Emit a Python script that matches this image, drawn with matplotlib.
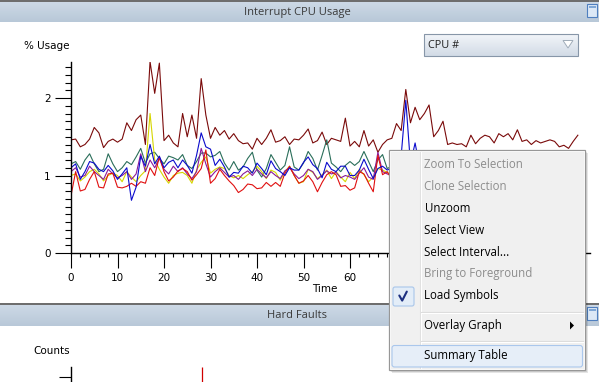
import matplotlib
matplotlib.use('Agg')
import matplotlib.pyplot as plt
import numpy as np
from matplotlib.patches import Rectangle, FancyBboxPatch, Polygon
from matplotlib.ticker import MultipleLocator, NullFormatter, FuncFormatter
import matplotlib.colors as mcolors

# ---------------- data ----------------
time_long = list(range(110))
time_short = list(range(76))

cpu_maroon = [1.46, 1.47, 1.37, 1.40, 1.47, 1.62, 1.55, 1.36, 1.44, 1.47,
              1.43, 1.47, 1.68, 1.58, 1.72, 1.78, 1.40, 2.47, 2.06, 2.45,
              1.45, 1.52, 1.42, 1.37, 1.80, 1.50, 1.78, 1.48, 2.25, 1.78,
              1.48, 1.62, 1.52, 1.58, 1.47, 1.54, 1.45, 1.41, 1.42, 1.34,
              1.48, 1.40, 1.48, 1.59, 1.43, 1.45, 1.50, 1.40, 1.47, 1.46,
              1.52, 1.60, 1.42, 1.45, 1.56, 1.40, 1.48, 1.46, 1.44, 1.74,
              1.38, 1.44, 1.37, 1.58, 1.38, 1.46, 1.30, 1.40, 1.46, 1.48,
              1.67, 1.58, 2.11, 1.68, 1.88, 1.72, 1.80, 1.91, 1.50, 1.58,
              1.70, 1.40, 1.42, 1.40, 1.41, 1.37, 1.52, 1.41, 1.48, 1.52,
              1.50, 1.42, 1.54, 1.50, 1.54, 1.46, 1.59, 1.44, 1.46, 1.40,
              1.45, 1.42, 1.44, 1.46, 1.44, 1.37, 1.39, 1.35, 1.44, 1.52]

cpu_green = [1.15, 1.18, 1.08, 1.20, 1.28, 1.15, 1.05, 1.08, 1.28, 1.15,
             1.05, 1.10, 1.18, 1.14, 1.24, 1.35, 1.16, 1.28, 1.30, 1.22,
             1.15, 1.25, 1.23, 1.20, 1.27, 1.13, 1.09, 1.18, 1.29, 1.29,
             1.24, 1.26, 1.31, 1.16, 1.07, 1.18, 1.07, 1.11, 1.22, 1.30,
             1.07, 0.98, 1.09, 1.27, 1.17, 1.07, 1.13, 1.37, 1.11, 1.07,
             1.16, 1.31, 1.22, 1.07, 1.26, 1.46, 1.16, 1.11, 1.05, 1.13,
             1.18, 1.13, 1.18, 1.31, 1.18, 1.05, 1.20, 1.27, 1.09, 1.12,
             1.20, 1.15, 1.30, 1.18, 1.22, 1.10]

cpu_blue = [1.10, 1.15, 0.95, 1.05, 1.18, 1.16, 1.08, 1.05, 1.13, 1.06,
            0.95, 1.02, 1.10, 0.68, 0.85, 1.25, 1.12, 1.40, 1.15, 1.25,
            1.10, 1.17, 1.20, 1.10, 1.20, 1.13, 1.03, 1.26, 1.55, 1.37,
            1.34, 1.13, 1.21, 1.11, 0.98, 1.04, 1.03, 1.12, 1.10, 1.03,
            1.16, 1.09, 1.01, 1.19, 1.09, 1.05, 1.00, 1.10, 1.07, 1.07,
            1.17, 1.24, 1.14, 1.09, 0.97, 1.17, 1.08, 1.05, 1.12, 1.12,
            1.00, 1.00, 1.07, 1.21, 1.08, 0.96, 1.09, 1.12, 1.07, 1.10,
            1.15, 1.25, 1.97, 1.15, 1.42, 1.10]

cpu_yellow = [1.00, 1.02, 0.93, 0.98, 1.05, 1.08, 1.02, 0.93, 1.00, 1.03,
              1.00, 0.92, 1.05, 0.98, 0.92, 1.00, 1.06, 1.80, 1.20, 1.08,
              0.98, 0.90, 1.00, 1.03, 1.04, 1.00, 0.90, 1.07, 1.17, 1.24,
              1.03, 1.08, 1.11, 1.09, 1.00, 0.97, 1.00, 0.96, 1.01, 1.05,
              1.12, 1.05, 0.96, 1.07, 1.04, 0.94, 1.05, 1.12, 1.00, 0.90,
              0.92, 1.08, 1.04, 0.96, 1.01, 1.07, 0.96, 1.05, 0.98, 0.92,
              1.04, 0.96, 1.08, 1.01, 0.92, 0.98, 1.09, 1.07, 1.04, 1.00,
              1.05, 0.98, 1.10, 1.02, 0.95, 1.00]

cpu_red = [0.74, 1.05, 0.80, 0.82, 0.95, 1.05, 0.85, 0.84, 1.02, 1.03,
           0.85, 0.84, 0.86, 0.90, 0.86, 0.92, 0.90, 1.10, 1.00, 1.24,
           1.05, 0.93, 0.98, 1.06, 1.09, 1.05, 0.94, 1.01, 1.09, 1.33,
           0.90, 0.96, 1.08, 1.00, 0.93, 0.87, 0.78, 0.82, 0.89, 0.88,
           0.83, 0.84, 0.91, 0.86, 0.91, 0.86, 1.03, 1.12, 1.00, 0.90,
           0.93, 1.00, 0.92, 0.79, 0.91, 1.01, 1.05, 1.01, 0.86, 0.87,
           0.81, 0.84, 1.05, 1.02, 0.90, 0.79, 1.26, 1.01, 1.05, 0.95,
           0.90, 1.00, 0.92, 0.88, 1.00, 0.95]

cpu_purple = [1.05, 1.10, 0.98, 1.00, 1.12, 1.05, 1.00, 0.95, 1.08, 1.02,
              0.97, 1.00, 1.05, 0.95, 1.02, 1.28, 1.05, 1.20, 1.10, 1.22,
              1.08, 1.02, 1.12, 1.05, 1.10, 1.02, 0.96, 1.05, 1.35, 1.15,
              0.98, 1.05, 1.10, 1.04, 0.98, 1.00, 0.95, 1.02, 1.06, 1.00,
              1.08, 1.02, 0.97, 1.05, 1.00, 0.96, 1.06, 1.10, 1.02, 0.96,
              1.00, 1.08, 1.05, 0.95, 1.00, 1.06, 1.02, 1.04, 0.97, 1.00,
              0.98, 0.95, 1.03, 1.10, 0.98, 0.95, 1.30, 1.05, 1.02, 1.00,
              1.05, 0.98, 1.02, 1.00, 0.97, 1.00]

hard_fault_times = [28.2]
hard_fault_counts = [10]

menu_items = ["Zoom To Selection", "Clone Selection", "Unzoom", "Select View",
              "Select Interval...", "Bring to Foreground", "Load Symbols",
              "Overlay Graph", "Summary Table"]
menu_enabled = [False, False, True, True, True, False, True, True, True]

panel_titles = ["Interrupt CPU Usage", "Hard Faults"]
dropdown_label = "CPU #"

# ---------------- layout ----------------
W, H = 599, 382
UI_FONT = ['Open Sans', 'DejaVu Sans']
AX_FONT = ['DejaVu Sans']


def fr(x0, y0, w, h):
    return [x0 / W, 1 - (y0 + h) / H, w / W, h / H]


fig = plt.figure(figsize=(W / 100, H / 100), dpi=100)
fig.patch.set_facecolor('white')

PX_PER_T = 4.65
PX_PER_V = 77.5
ax = fig.add_axes(fr(71, 61.7, 519, 191.3))
ax.set_xlim(0, 519 / PX_PER_T)
ax.set_ylim(0, 191.3 / PX_PER_V)
for s in ['top', 'right']:
    ax.spines[s].set_visible(False)
for s in ['left', 'bottom']:
    ax.spines[s].set_linewidth(1.0)
    ax.spines[s].set_color('black')
ax.xaxis.set_major_locator(MultipleLocator(10))
ax.xaxis.set_minor_locator(MultipleLocator(2))
# labels past 65 lie under the context menu in the reference
ax.xaxis.set_major_formatter(FuncFormatter(lambda v, p: '' if v > 65 else f'{v:.0f}'))
ax.yaxis.set_major_locator(MultipleLocator(1))
ax.yaxis.set_minor_locator(MultipleLocator(0.1))
ax.tick_params(axis='x', which='major', length=11, width=0.8, pad=3.5, labelsize=7.5)
ax.tick_params(axis='x', which='minor', length=3, width=0.8)
ax.tick_params(axis='y', which='major', length=11.5, width=0.8, pad=3, labelsize=7.5)
ax.tick_params(axis='y', which='minor', length=4, width=0.8)
for lab in ax.get_xticklabels() + ax.get_yticklabels():
    lab.set_family(AX_FONT)

lw = 0.8
ax.plot(time_long, cpu_maroon, color='#7a0a0a', lw=lw)
ax.plot(time_short, cpu_green, color='#2a6e5a', lw=lw)
ax.plot(time_short, cpu_yellow, color='#d6d600', lw=lw)
ax.plot(time_short, cpu_purple, color='#8a1a9a', lw=lw)
ax.plot(time_short, cpu_red, color='#e01010', lw=lw)
ax.plot(time_short, cpu_blue, color='#0a0acc', lw=lw)

fig.text(47 / W, 1 - 46 / H, '% Usage', ha='center', va='center', fontsize=7.5, family=AX_FONT)
fig.text(325 / W, 1 - 289 / H, 'Time', ha='center', va='center', fontsize=7.5, family=AX_FONT)
fig.text(52 / W, 1 - 351 / H, 'Counts', ha='center', va='center', fontsize=7.5, family=AX_FONT)

# Hard faults panel (only top visible)
ax2 = fig.add_axes(fr(71, 367, 519, 100))
ax2.set_xlim(0, 519 / PX_PER_T)
ax2.set_ylim(0, 10)
for s in ['top', 'right', 'bottom']:
    ax2.spines[s].set_visible(False)
ax2.spines['left'].set_linewidth(1.0)
ax2.set_xticks([])
ax2.set_yticks([9])
ax2.yaxis.set_major_formatter(NullFormatter())
ax2.tick_params(axis='y', length=8.5, width=0.8)
ax2.vlines(hard_fault_times, 0, hard_fault_counts, color='#d00000', lw=0.9)

# ---------------- UI overlay ----------------
ov = fig.add_axes([0, 0, 1, 1], zorder=10)
ov.axis('off')


def grad_rect(x0, y0, x1, y1, ctop, cbot, z=1):
    c1 = np.array(mcolors.to_rgb(ctop))
    c2 = np.array(mcolors.to_rgb(cbot))
    t = np.linspace(0, 1, 32)[:, None]
    arr = (c1 * (1 - t) + c2 * t)[:, None, :]
    ov.imshow(arr, extent=[x0, x1, y1, y0], aspect='auto', interpolation='bilinear', zorder=z)


def header(y_line, y0, y1, title):
    ov.add_patch(Rectangle((0, y_line), W, y0 - y_line, facecolor='#6e6e6e', edgecolor='none', zorder=1))
    grad_rect(0, y0, W, y1, '#cdd9e6', '#b8c8d8')
    ov.text(297, (y0 + y1) / 2 + 0.5, title, ha='center', va='center', fontsize=8,
            color='#3a3a3a', family=UI_FONT, zorder=3)
    # small window icon
    ov.add_patch(Rectangle((587, y0 + 1.5), 10, 13, facecolor='#dce8f6', edgecolor='#4f7fbf', lw=0.8, zorder=3))
    ov.add_patch(Rectangle((588.5, y0 + 3.5), 7, 2.2, facecolor='#7fa7d6', edgecolor='none', zorder=4))


header(0, 2.5, 22, panel_titles[0])
header(302.5, 305, 326, panel_titles[1])

# dropdown
grad_rect(424, 34, 578, 56, '#f2f5f9', '#d2dbe6')
ov.add_patch(Rectangle((424, 34), 154, 22, facecolor='none', edgecolor='#8796a8', lw=0.8, zorder=3))
ov.text(428, 45.5, dropdown_label, ha='left', va='center', fontsize=7.8, color='#202020', family=UI_FONT, zorder=4)
ov.add_patch(Polygon([(563, 40.5), (573, 40.5), (568, 48)], closed=True, facecolor='white',
                     edgecolor='#a0acb9', lw=0.7, zorder=4))

# context menu
MX0, MY0, MX1, MY1 = 389.3, 150, 585, 370
ov.add_patch(Rectangle((MX0 + 3, MY0 + 3), MX1 - MX0, MY1 - MY0, facecolor='black', alpha=0.10, edgecolor='none', zorder=5))
ov.add_patch(Rectangle((MX0 + 1.5, MY0 + 1.5), MX1 - MX0, MY1 - MY0, facecolor='black', alpha=0.10, edgecolor='none', zorder=5))
ov.add_patch(Rectangle((MX0, MY0), MX1 - MX0, MY1 - MY0, facecolor='#f0f0f0', edgecolor='#979797', lw=0.9, zorder=6))
ov.add_patch(Rectangle((MX0 + 1, MY0 + 1), MX1 - MX0 - 2, MY1 - MY0 - 2, facecolor='none', edgecolor='#f8f8f8', lw=0.7, zorder=6))
ov.plot([419.5, 419.5], [MY0 + 2, MY1 - 2], color='#e0e0e0', lw=0.8, zorder=7)
ov.plot([420.5, 420.5], [MY0 + 2, MY1 - 2], color='#ffffff', lw=0.8, zorder=7)
for sy in [311.7, 340.5]:
    ov.plot([421, 583], [sy, sy], color='#dcdcdc', lw=0.8, zorder=7)
    ov.plot([421, 583], [sy + 1, sy + 1], color='#ffffff', lw=0.8, zorder=7)

# highlighted item
ov.add_patch(FancyBboxPatch((392, 345.5), 190.5, 21.5, boxstyle='round,pad=0,rounding_size=2.5',
                            facecolor='#e6eef8', edgecolor='#aac7ec', lw=0.8, zorder=7))
# check box
ov.add_patch(FancyBboxPatch((393, 287), 21, 19, boxstyle='round,pad=0,rounding_size=2',
                            facecolor='#e3edf8', edgecolor='#a9c6ea', lw=0.8, zorder=7))
ov.plot([399.3, 402.2, 406.8], [295.5, 300.6, 291.6], color='#1c2f80', lw=1.5,
        solid_capstyle='round', solid_joinstyle='round', zorder=8)
# submenu arrow
ov.add_patch(Polygon([(570, 321.5), (570, 329.5), (574, 325.5)], closed=True, facecolor='black',
                     edgecolor='none', zorder=8))

item_y = [164, 186, 208, 230, 252, 274, 296, 326, 356]
for label, en, yy in zip(menu_items, menu_enabled, item_y):
    ov.text(424.5, yy, label, ha='left', va='center', fontsize=8.3,
            color='black' if en else '#8d8d8d', family=UI_FONT, zorder=9)

ov.set_xlim(0, W)
ov.set_ylim(H, 0)

fig.savefig('out.png', dpi=100, facecolor='white')
